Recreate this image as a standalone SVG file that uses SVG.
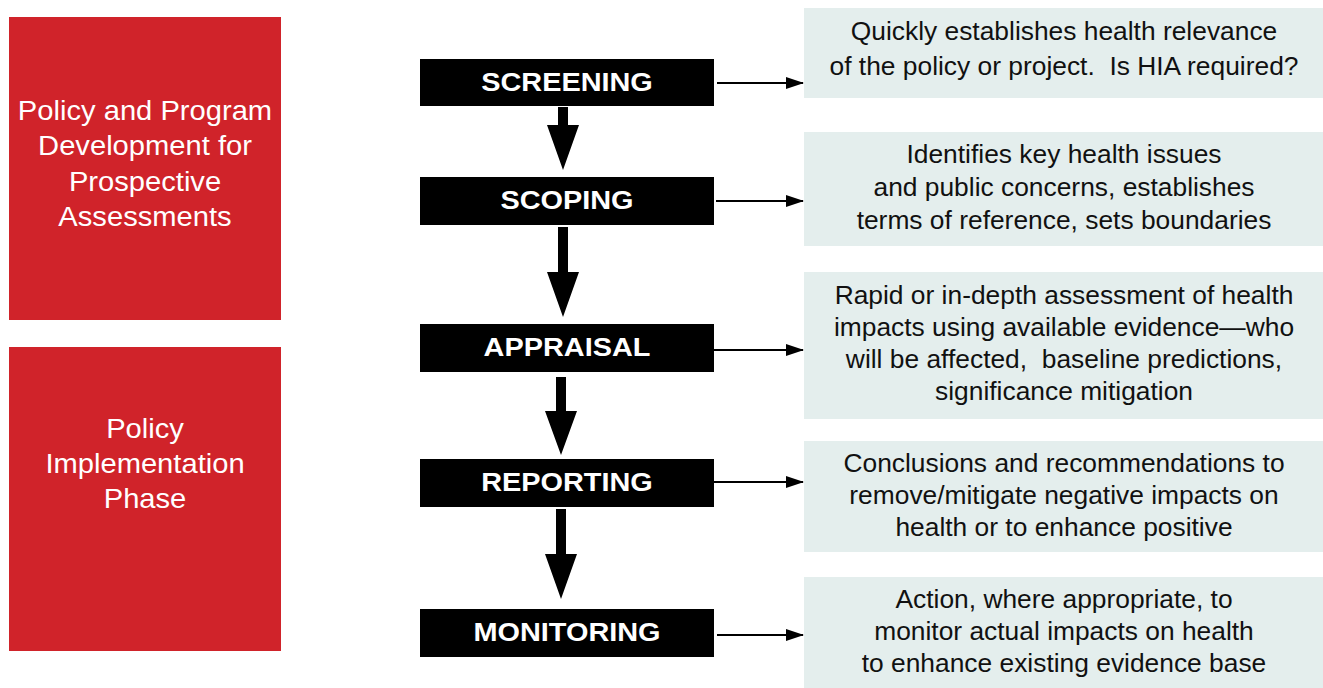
<svg xmlns="http://www.w3.org/2000/svg" width="1323" height="688" viewBox="0 0 1323 688">
<defs>
<style>
.red{fill:#d0232a}
.rt{font-family:"Liberation Sans",Arial,sans-serif;font-size:27.5px;fill:#ffffff;text-anchor:middle}
.blk{fill:#000000}
.bt{font-family:"Liberation Sans",Arial,sans-serif;font-size:26.5px;font-weight:bold;fill:#ffffff;text-anchor:middle}
.desc{fill:#e4eeed}
.dt{font-family:"Liberation Sans",Arial,sans-serif;font-size:25px;fill:#111111;text-anchor:middle;white-space:pre}
.conn{stroke:#000;stroke-width:2;fill:none}
.fat{fill:#000}
</style>
<marker id="ah" markerWidth="18" markerHeight="12" refX="17" refY="6" orient="auto" markerUnits="userSpaceOnUse" viewBox="0 0 18 12">
<path d="M0,0 L18,6 L0,12 Z" fill="#000"/>
</marker>
</defs>
<rect width="1323" height="688" fill="#ffffff"/>

<g id="phase-prospective">
<rect class="red" x="9" y="17" width="272" height="303"/>
<text class="rt" transform="matrix(1.06 0 0 1 145 0)"><tspan x="0" y="120">Policy and Program</tspan><tspan x="0" y="155.5">Development for</tspan><tspan x="0" y="191">Prospective</tspan><tspan x="0" y="226.5">Assessments</tspan></text>
</g>
<g id="phase-implementation">
<rect class="red" x="9" y="347" width="272" height="304"/>
<text class="rt" transform="matrix(1.06 0 0 1 145 0)"><tspan x="0" y="438">Policy</tspan><tspan x="0" y="473">Implementation</tspan><tspan x="0" y="508">Phase</tspan></text>
</g>

<g id="screening">
<rect class="blk" x="420" y="59" width="294" height="47"/>
<text class="bt" transform="matrix(1.09 0 0 1 567 0)" x="0" y="91.5">SCREENING</text>
</g>
<g id="scoping">
<rect class="blk" x="420" y="177" width="294" height="48"/>
<text class="bt" transform="matrix(1.09 0 0 1 567 0)" x="0" y="209.5">SCOPING</text>
</g>
<g id="appraisal">
<rect class="blk" x="420" y="324" width="294" height="48"/>
<text class="bt" transform="matrix(1.09 0 0 1 567 0)" x="0" y="356.5">APPRAISAL</text>
</g>
<g id="reporting">
<rect class="blk" x="420" y="459" width="294" height="48"/>
<text class="bt" transform="matrix(1.09 0 0 1 567 0)" x="0" y="491.5">REPORTING</text>
</g>
<g id="monitoring">
<rect class="blk" x="420" y="609" width="294" height="48"/>
<text class="bt" transform="matrix(1.09 0 0 1 567 0)" x="0" y="641.5">MONITORING</text>
</g>

<g id="desc-screening">
<rect class="desc" x="804" y="8" width="519" height="90"/>
<text class="dt" transform="matrix(1.055 0 0 1 1064 0)" xml:space="preserve"><tspan x="0" y="40">Quickly establishes health relevance</tspan><tspan x="0" y="75">of the policy or project.  Is HIA required?</tspan></text>
</g>
<g id="desc-scoping">
<rect class="desc" x="804" y="132" width="519" height="114"/>
<text class="dt" transform="matrix(1.055 0 0 1 1064 0)"><tspan x="0" y="163">Identifies key health issues</tspan><tspan x="0" y="196">and public concerns, establishes</tspan><tspan x="0" y="229">terms of reference, sets boundaries</tspan></text>
</g>
<g id="desc-appraisal">
<rect class="desc" x="804" y="272" width="519" height="147"/>
<text class="dt" transform="matrix(1.055 0 0 1 1064 0)" xml:space="preserve"><tspan x="0" y="304">Rapid or in-depth assessment of health</tspan><tspan x="0" y="336">impacts using available evidence—who</tspan><tspan x="0" y="368">will be affected,  baseline predictions,</tspan><tspan x="0" y="400">significance mitigation</tspan></text>
</g>
<g id="desc-reporting">
<rect class="desc" x="804" y="441" width="519" height="111"/>
<text class="dt" transform="matrix(1.055 0 0 1 1064 0)"><tspan x="0" y="472">Conclusions and recommendations to</tspan><tspan x="0" y="504">remove/mitigate negative impacts on</tspan><tspan x="0" y="536">health or to enhance positive</tspan></text>
</g>
<g id="desc-monitoring">
<rect class="desc" x="804" y="577" width="519" height="111"/>
<text class="dt" transform="matrix(1.055 0 0 1 1064 0)"><tspan x="0" y="608">Action, where appropriate, to</tspan><tspan x="0" y="640">monitor actual impacts on health</tspan><tspan x="0" y="672">to enhance existing evidence base</tspan></text>
</g>

<g id="connectors">
<path class="fat" d="M558,107 H568 V125 H579 L563,170 L547,125 H558 Z"/>
<path class="fat" d="M558,227 H568 V272 H579 L563,317 L547,272 H558 Z"/>
<path class="fat" d="M556,377 H566 V411 H577 L561,455 L545,411 H556 Z"/>
<path class="fat" d="M556,509 H566 V554 H577 L561,599 L545,554 H556 Z"/>
<line class="conn" x1="717" y1="83" x2="803" y2="83" marker-end="url(#ah)"/>
<line class="conn" x1="716" y1="201" x2="803" y2="201" marker-end="url(#ah)"/>
<line class="conn" x1="714" y1="350" x2="803" y2="350" marker-end="url(#ah)"/>
<line class="conn" x1="714" y1="482" x2="803" y2="482" marker-end="url(#ah)"/>
<line class="conn" x1="717" y1="635" x2="803" y2="635" marker-end="url(#ah)"/>
</g>
</svg>
